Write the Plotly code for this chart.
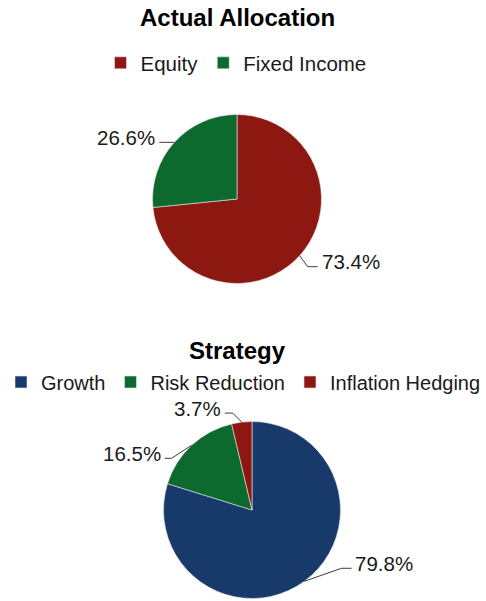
import math
import plotly.graph_objects as go

# ---------------- data ----------------
alloc_labels = ["Equity", "Fixed Income"]
alloc_values = [73.4, 26.6]
strat_labels = ["Growth", "Risk Reduction", "Inflation Hedging"]
strat_values = [79.8, 16.5, 3.7]

# ---------------- styling ----------------
W, H = 486, 601
FONT = "Liberation Sans, Arial, sans-serif"
TXT = "#1a1a1a"
RED, GREEN, BLUE = "#8C1811", "#0C6A2F", "#183A6A"
alloc_colors = [RED, GREEN]
strat_colors = [BLUE, GREEN, RED]

# pie geometry in pixels (centre x, centre y, radius)
TOP = (237, 199, 84.5)
BOT = (252, 510, 88.5)
# leader-line elbow offsets from the slice edge (px) and horizontal tail length
alloc_off = [(8, 11, 10), (-1, 0, 14)]
strat_off = [(37, -13, 10), (-20, 13, 7), (-9, -9, 8)]


def px(x):
    return x / W


def py(y):
    return 1 - y / H


def domain(geom):
    cx, cy, r = geom
    return dict(x=[px(cx - r), px(cx + r)], y=[py(cy + r), py(cy - r)])


fig = go.Figure()
fig.add_trace(go.Pie(
    labels=alloc_labels, values=alloc_values, sort=False, direction="clockwise",
    rotation=0, marker=dict(colors=alloc_colors, line=dict(width=0.6, color="#e8e8e8")),
    textinfo="none", hoverinfo="label+percent", domain=domain(TOP), legend="legend",
))
fig.add_trace(go.Pie(
    labels=strat_labels, values=strat_values, sort=False, direction="clockwise",
    rotation=0, marker=dict(colors=strat_colors, line=dict(width=0.6, color="#e8e8e8")),
    textinfo="none", hoverinfo="label+percent", domain=domain(BOT), legend="legend2",
))

shapes, annotations = [], []


def add_labels(values, geom, offs):
    cx, cy, r = geom
    total = sum(values)
    start = 0.0
    for v, (dx, dy, tail) in zip(values, offs):
        frac = v / total
        mid = (start + frac / 2) * 2 * math.pi
        start += frac
        ex, ey = cx + r * math.sin(mid), cy - r * math.cos(mid)
        bx, by = ex + dx, ey + dy
        side = 1 if math.sin(mid) > 0 else -1
        tx = bx + side * tail
        line = dict(type="line", xref="paper", yref="paper",
                    line=dict(color="#3a3a3a", width=1))
        shapes.append(dict(line, x0=px(ex), y0=py(ey), x1=px(bx), y1=py(by)))
        shapes.append(dict(line, x0=px(bx), y0=py(by), x1=px(tx), y1=py(by)))
        annotations.append(dict(
            text=f"{v:.1f}%", xref="paper", yref="paper", showarrow=False,
            x=px(tx + side * 2), y=py(by - 5),
            xanchor="left" if side > 0 else "right", yanchor="middle",
            font=dict(family=FONT, size=20.5, color=TXT),
        ))


add_labels(alloc_values, TOP, alloc_off)
add_labels(strat_values, BOT, strat_off)

for t, yy in [("Actual Allocation", 18), ("Strategy", 350)]:
    annotations.append(dict(
        text=t, xref="paper", yref="paper", showarrow=False, x=px(237), y=py(yy),
        xanchor="center", yanchor="middle",
        font=dict(family=FONT, size=24, color="#000000", weight="bold"),
    ))

legend_common = dict(orientation="h", xanchor="center", yanchor="middle",
                     bgcolor="rgba(0,0,0,0)", itemclick=False, itemdoubleclick=False)

fig.update_layout(
    width=W, height=H, margin=dict(l=0, r=0, t=0, b=0),
    paper_bgcolor="white", plot_bgcolor="white",
    showlegend=True,
    legend=dict(legend_common, x=px(236), y=py(63),
                font=dict(family=FONT, size=20.5, color=TXT)),
    legend2=dict(legend_common, x=px(246), y=py(382),
                 font=dict(family=FONT, size=20, color=TXT)),
    shapes=shapes, annotations=annotations,
)

fig.write_html("out.html", config={"displayModeBar": False},
               post_script="document.body.style.margin='0';")
